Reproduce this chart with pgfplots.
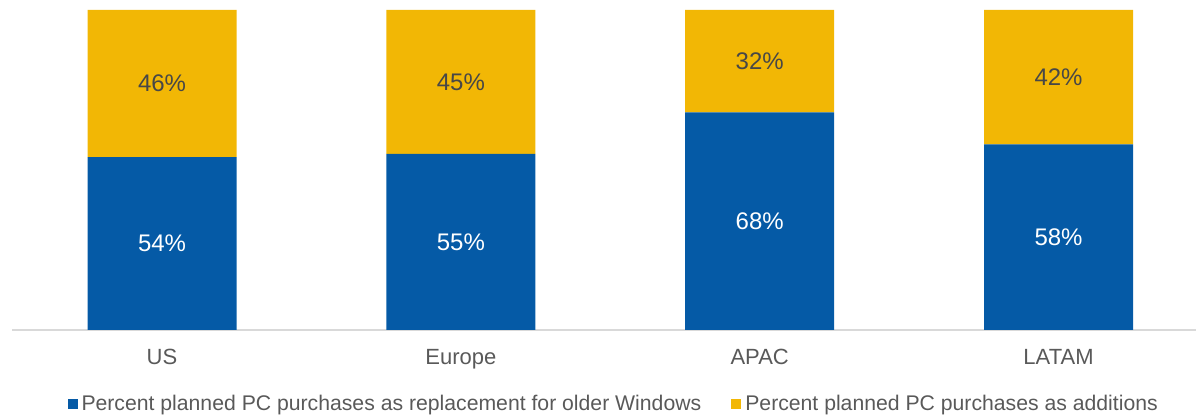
\documentclass[border=0pt]{standalone}
\usepackage{pgfplots}
\pgfplotsset{compat=1.18}
\usepackage{fontspec}
\setmainfont{Liberation Sans}

\definecolor{winblue}{HTML}{055AA6}
\definecolor{addyellow}{HTML}{F2B705}
\definecolor{txtgray}{HTML}{595959}
\definecolor{linegray}{HTML}{D9D9D9}

\pgfplotsset{
  base/.style={
    width=592pt, height=165pt, scale only axis,
    xmin=-0.502, xmax=3.46, ymin=0, ymax=103.125,
  }
}

\begin{document}
\begin{tikzpicture}
\useasboundingbox (-6pt,-42.5pt) rectangle (592pt,165pt);
\begin{axis}[
  base,
  ybar stacked,
  bar width=74.5pt,
  axis x line=bottom,
  axis y line=none,
  x axis line style={draw=linegray, line width=1pt, -},
  xtick={0,1,2,3},
  xticklabels={US,Europe,APAC,LATAM},
  xtick style={draw=none},
  xticklabel style={font=\fontsize{11}{13}\selectfont, text=txtgray, yshift=-4pt},
  ytick=\empty,
  legend style={draw=none, fill=none, legend columns=2,
    at={(0.509,-0.2242)}, anchor=center,
    font=\fontsize{10.6}{12}\selectfont, text=txtgray,
    /tikz/every even column/.append style={column sep=13pt}},
  legend cell align=left,
  legend image code/.code={\fill[#1] (0pt,-2.5pt) rectangle (5pt,2.5pt);},
]
\addplot[fill=winblue, draw=none] coordinates {(0,54) (1,55) (2,68) (3,58)};
\addplot[fill=addyellow, draw=none] coordinates {(0,46) (1,45) (2,32) (3,42)};
\legend{Percent planned PC purchases as replacement for older Windows,
        Percent planned PC purchases as additions}
\end{axis}
% segment labels at the middle of each stacked part
\begin{axis}[
  base, hide axis,
  nodes near coords, point meta=explicit symbolic,
  every node near coord/.append style={anchor=center, font=\fontsize{12}{14}\selectfont},
]
\addplot[only marks, mark=none, nodes near coords, every node near coord/.append style={text=white}]
  coordinates {(0,27) [54\%] (1,27.5) [55\%] (2,34) [68\%] (3,29) [58\%]};
\addplot[only marks, mark=none, nodes near coords, every node near coord/.append style={text=txtgray!80!black}]
  coordinates {(0,77) [46\%] (1,77.5) [45\%] (2,84) [32\%] (3,79) [42\%]};
\end{axis}
\end{tikzpicture}
\end{document}
